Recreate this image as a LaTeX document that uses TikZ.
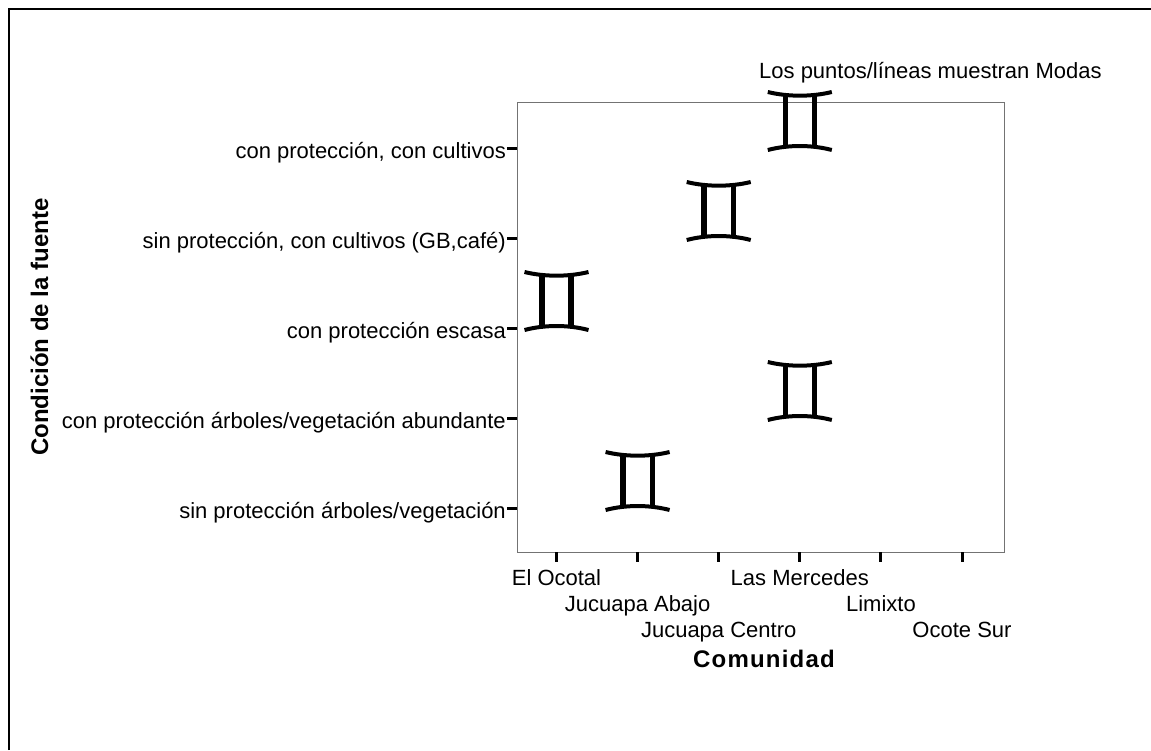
\documentclass[tikz,border=0pt]{standalone}
\usepackage{fontspec}
\setmainfont{Liberation Sans}
\begin{document}
\begin{tikzpicture}[x=1pt,y=-1pt,
  lbl/.style={inner sep=0pt,font=\fontsize{22}{26}\selectfont},
  ttl/.style={inner sep=0pt,font=\fontsize{24}{29}\selectfont\bfseries},
  tickmark/.style={line width=3pt},
  markcurve/.style={line width=4pt},
  markbar/.style={line width=5.3pt},
  frame/.style={line width=2pt},
  plotbox/.style={draw=black!55,line width=1pt}]
\useasboundingbox (0,0) rectangle (1151,750);
\fill[white] (0,0) rectangle (1151,750);
% outer frame (cropped on right and bottom)
\draw[frame] (9,750) -- (9,9) -- (1151,9);
% plot box
\node[plotbox,inner sep=0pt,minimum width=487pt,minimum height=450pt,anchor=north west] (box) at (517,102) {};
% y ticks and labels
\foreach \v/\t [count=\i] in {148/{con protección, con cultivos},
  238/{sin protección, con cultivos (GB,café)},
  328/{con protección escasa},
  418/{con protección árboles/vegetación abundante},
  508/{sin protección árboles/vegetación}}{
  \coordinate (yt\i) at (517,\v);
  \coordinate (ys\i) at (507,\v);
  \draw[tickmark] (ys\i) -- (yt\i);
  \node[lbl,anchor=base east] (yl\i) at (506,\v+10) {\t};
}
% x ticks and labels
\foreach \x/\t/\r [count=\i] in {556.5/{El Ocotal}/585,
  637.6/{Jucuapa Abajo}/611,
  718.7/{Jucuapa Centro}/637,
  799.8/{Las Mercedes}/585,
  880.9/{Limixto}/611,
  962/{Ocote Sur}/637}{
  \coordinate (xt\i) at (\x,552);
  \coordinate (xs\i) at (\x,562);
  \draw[tickmark] (xt\i) -- (xs\i);
  \node[lbl,anchor=base] (xl\i) at (\x,\r) {\t};
}
% axis titles
\node[ttl,anchor=base] (xtitle) at (764,667.5) {\addfontfeatures{LetterSpace=5}Comunidad};
\node[ttl,anchor=base,rotate=90] (ytitle) at (48,327) {Condición de la fuente};
% legend text
\node[lbl,anchor=base west] (note) at (759,78) {Los puntos/líneas muestran Modas};
% mode markers
\foreach \cx/\v [count=\i] in {799.8/148, 718.7/238, 556.5/328, 799.8/418, 637.6/508}{
  \draw[markcurve] (\cx-32,\v-56) .. controls (\cx-12,\v-51.1) and (\cx+12,\v-51.1) .. (\cx+32,\v-56);
  \draw[markcurve] (\cx-32,\v+2) .. controls (\cx-12,\v-3.3) and (\cx+12,\v-3.3) .. (\cx+32,\v+2);
  \draw[markbar] (\cx-14.6,\v-53) -- (\cx-14.6,\v-2);
  \draw[markbar] (\cx+14.6,\v-53) -- (\cx+14.6,\v-2);
}
\end{tikzpicture}
\end{document}
